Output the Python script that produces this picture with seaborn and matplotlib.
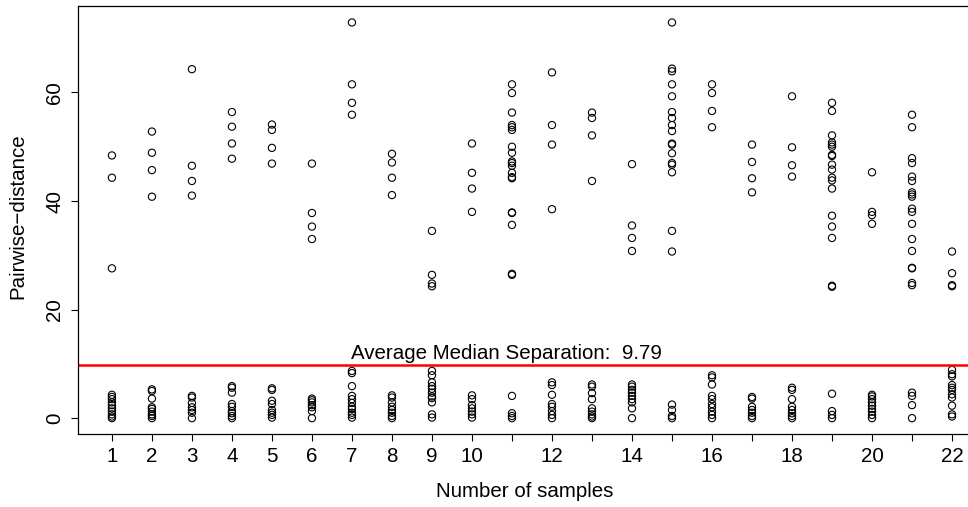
import numpy as np
import matplotlib
matplotlib.use("Agg")
import matplotlib.pyplot as plt
import seaborn as sns
import pandas as pd

# Number of samples on the x axis
samples = list(range(1, 23))

# Pairwise distances above the separation line, one list per sample count
upper_vals = [
    [48.4, 44.3, 27.6],
    [52.8, 48.9, 45.7, 40.8],
    [64.3, 46.5, 43.7, 41.0],
    [56.4, 53.7, 50.6, 47.8],
    [54.1, 53.1, 49.8, 46.9],
    [46.9, 37.8, 35.3, 33.0],
    [72.9, 61.5, 58.1, 55.9],
    [48.7, 47.1, 44.3, 41.1],
    [34.5, 26.4, 24.8, 24.3],
    [50.6, 45.2, 42.3, 38.0],
    [61.5, 59.9, 56.3, 54.0, 53.6, 53.1, 50.0, 48.9, 47.3, 47.0, 46.5,
     45.2, 44.4, 44.2, 37.9, 37.8, 35.6, 26.6, 26.4],
    [63.7, 54.0, 50.4, 38.5],
    [56.3, 55.3, 52.1, 43.7],
    [46.8, 35.5, 33.2, 30.8],
    [72.9, 64.4, 63.9, 61.5, 59.3, 56.4, 55.3, 54.0, 52.9, 50.6, 50.4,
     48.8, 47.0, 46.7, 45.3, 34.5, 30.7],
    [61.5, 59.9, 56.6, 53.6],
    [50.4, 47.2, 44.2, 41.6],
    [59.3, 49.9, 46.6, 44.5],
    [58.1, 56.6, 52.1, 50.8, 50.4, 50.0, 48.5, 48.3, 46.7, 45.8, 44.3,
     43.8, 42.3, 37.3, 35.3, 33.2, 24.4, 24.2],
    [45.3, 38.0, 37.4, 35.8],
    [55.9, 53.6, 47.9, 47.0, 44.5, 43.7, 41.6, 41.2, 40.8, 38.6, 38.0,
     35.8, 33.0, 30.8, 27.7, 27.6, 24.9, 24.5],
    [30.7, 26.7, 24.5, 24.3],
]

# Pairwise distances below the separation line
lower_vals = [
    [4.3, 3.9, 3.5, 2.9, 2.4, 1.8, 1.2, 0.7, 0.3, 0.0],
    [5.3, 5.0, 3.6, 2.0, 1.7, 1.2, 0.7, 0.4, 0.0],
    [4.1, 3.8, 2.8, 2.0, 1.5, 1.0, 0.0],
    [5.9, 5.6, 4.7, 2.6, 2.1, 1.3, 0.9, 0.4, 0.0],
    [5.5, 5.2, 3.2, 2.6, 1.5, 1.0, 0.6, 0.1],
    [3.6, 3.3, 2.9, 2.4, 2.0, 1.3, 0.0],
    [8.7, 8.3, 5.9, 4.1, 3.5, 2.8, 2.1, 1.7, 1.0, 0.6, 0.1],
    [4.2, 3.8, 2.9, 2.1, 1.5, 1.0, 0.4, 0.0],
    [8.7, 7.9, 6.6, 5.9, 5.4, 4.7, 4.0, 3.7, 2.9, 0.7, 0.1],
    [4.2, 3.5, 2.4, 1.8, 1.2, 0.7, 0.1],
    [4.1, 0.9, 0.4, 0.0],
    [6.6, 6.1, 4.3, 2.6, 2.1, 1.3, 0.6, 0.0],
    [6.2, 5.8, 4.6, 3.5, 1.8, 1.2, 0.7, 0.3, 0.0],
    [6.2, 5.8, 5.2, 4.7, 4.1, 3.5, 2.9, 1.8, 0.0],
    [2.5, 1.5, 0.4, 0.0],
    [7.9, 7.5, 6.2, 4.1, 3.5, 2.6, 2.0, 1.2, 0.6, 0.0],
    [3.9, 3.6, 2.1, 1.5, 1.0, 0.4, 0.0],
    [5.6, 5.2, 3.5, 2.1, 1.5, 0.9, 0.4, 0.0],
    [4.5, 1.3, 0.6, 0.0],
    [4.3, 4.0, 3.5, 2.9, 2.3, 1.7, 1.2, 0.6, 0.0],
    [4.7, 4.1, 2.4, 0.0],
    [8.9, 8.1, 7.7, 6.1, 5.6, 5.2, 4.4, 3.8, 2.3, 0.7, 0.3],
]

median_sep = 9.79
tick_labels = [str(n) if (n <= 10 or n % 2 == 0) else "" for n in samples]

# long-form table for seaborn
rows = []
for n, up, lo in zip(samples, upper_vals, lower_vals):
    for v in up + lo:
        rows.append((n, v))
df = pd.DataFrame(rows, columns=["samples", "distance"])

sns.set_style("ticks")
plt.rcParams["font.family"] = ["Liberation Sans", "DejaVu Sans"]
plt.rcParams["text.color"] = "black"
plt.rcParams["axes.labelcolor"] = "black"
plt.rcParams["xtick.color"] = "black"
plt.rcParams["ytick.color"] = "black"

fs = 14.8

fig = plt.figure(figsize=(9.68, 5.07), dpi=100)
ax = fig.add_axes([0.0809, 0.144, 0.9373, 0.844])

sns.scatterplot(data=df, x="samples", y="distance", ax=ax, marker="o",
                s=27, facecolors="none", edgecolors="black", linewidth=0.8)

ax.axhline(median_sep, color="red", lw=1.8)
ax.annotate("Average Median Separation:  %.2f" % median_sep,
            xy=(10.85, median_sep), xytext=(0, 4.2), textcoords="offset points",
            ha="center", va="baseline", fontsize=fs)

ax.set_xlim(0.16, 22.84)
ax.set_ylim(-2.92, 75.92)
ax.set_xticks(samples)
ax.set_xticklabels(tick_labels)
ax.set_yticks([0, 20, 40, 60])
ax.set_yticklabels(["0", "20", "40", "60"], rotation=90, va="center")
ax.tick_params(axis="both", labelsize=fs, length=5, width=0.8,
               color="black", labelcolor="black", direction="out")
ax.tick_params(axis="x", pad=4.5)
ax.tick_params(axis="y", pad=5)

ax.set_xlabel("Number of samples", fontsize=fs, va="center")
ax.set_ylabel("Pairwise\u2212distance", fontsize=fs, va="center")
ax.xaxis.set_label_coords(0.492, -0.1355)
ax.yaxis.set_label_coords(-0.0665, 0.51)

for sp in ax.spines.values():
    sp.set_color("black")
    sp.set_linewidth(0.9)

fig.savefig("out.png", dpi=100)
